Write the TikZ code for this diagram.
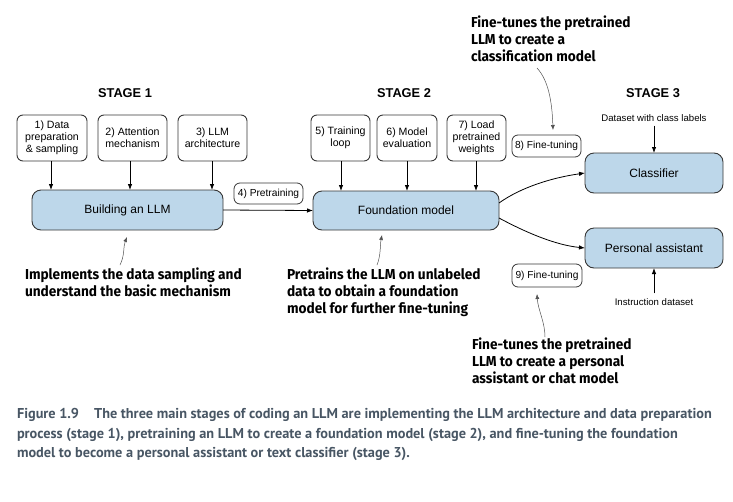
\documentclass[tikz,border=0pt]{standalone}
\usepackage{fontspec}
\setmainfont{Liberation Sans}
\newfontfamily\annfont{Fira Sans Bold}[FakeStretch=0.95]
\newfontfamily\capfont{PT Sans Bold}
\usetikzlibrary{arrows.meta}
\definecolor{boxblue}{RGB}{189,215,234}
\definecolor{boxline}{RGB}{55,55,55}
\definecolor{capcol}{RGB}{72,86,100}
\definecolor{anncol}{RGB}{80,80,80}
\tikzset{
  every node/.style={inner sep=0pt, outer sep=0pt},
  stepbox/.style={draw=boxline, line width=0.9pt, rounded corners=6pt, align=center,
    font=\fontsize{10.6}{12}\selectfont},
  mainbox/.style={draw=boxline, line width=0.9pt, fill=boxblue, rounded corners=9pt,
    font=\fontsize{12}{14}\selectfont},
  tagbox/.style={draw=boxline, line width=0.8pt, rounded corners=6pt,
    font=\fontsize{10.2}{12}\selectfont},
  stagetitle/.style={font=\fontsize{12.8}{14}\selectfont\bfseries},
  ann/.style={font=\annfont\fontsize{14.4}{17}\selectfont, align=left, anchor=north west},
  small/.style={font=\fontsize{9.6}{11}\selectfont},
  arr/.style={-{Latex[length=6pt,width=4.5pt]}, line width=0.8pt, black},
  annarr/.style={-{Latex[length=5pt,width=4pt]}, line width=0.5pt, anncol},
  captext/.style={font=\capfont\fontsize{14.3}{16}\selectfont, text=capcol, anchor=west}
}
\begin{document}
\begin{tikzpicture}[x=1pt,y=-1pt]
\useasboundingbox (0,0) rectangle (733,501);

% stage titles
\node[stagetitle] (s1) at (125,93) {STAGE 1};
\node[stagetitle] (s2) at (404,93) {STAGE 2};
\node[stagetitle] (s3) at (653,93) {STAGE 3};

% stage 1 boxes
\node[stepbox, minimum width=70pt, minimum height=46pt] (b1) at (52,138) {1) Data\\preparation\\\& sampling};
\node[stepbox, minimum width=69pt, minimum height=46pt] (b2) at (132.5,138) {2) Attention\\mechanism};
\node[stepbox, minimum width=69pt, minimum height=46pt] (b3) at (212.5,138) {3) LLM\\architecture};
\node[mainbox, minimum width=191pt, minimum height=40pt] (build) at (127.5,210) {Building an LLM};

\draw[arr] (b1.south -| 51,0) -- (build.north -| 51,0);
\draw[arr] (b2.south -| 130,0) -- (build.north -| 130,0);
\draw[arr] (b3.south -| 212,0) -- (build.north -| 212,0);

% stage 2 boxes
\node[stepbox, minimum width=59pt, minimum height=46pt] (b5) at (340.5,138) {5) Training\\loop};
\node[stepbox, minimum width=60pt, minimum height=46pt] (b6) at (407,138) {6) Model\\evaluation};
\node[stepbox, minimum width=59pt, minimum height=46pt] (b7) at (476.5,138) {7) Load\\pretrained\\weights};
\node[mainbox, minimum width=186pt, minimum height=39pt] (found) at (406,210.5) {Foundation model};

\draw[arr] (b5.south -| 341,0) -- (found.north -| 341,0);
\draw[arr] (b6.south -| 407,0) -- (found.north -| 407,0);
\draw[arr] (b7.south -| 476,0) -- (found.north -| 476,0);

% pretraining
\node[tagbox, minimum width=69pt, minimum height=21pt] (pre) at (268.5,193.5) {4) Pretraining};
\draw[arr] (build.east) -- (found.west);

% stage 3
\node[mainbox, minimum width=138pt, minimum height=40pt] (cls) at (654,173) {Classifier};
\node[mainbox, minimum width=138pt, minimum height=40pt] (pa) at (654,248) {Personal assistant};
\node[small] (dscl) at (654,118) {Dataset with class labels};
\node[small] (inst) at (654,302) {Instruction dataset};
\draw[arr] (dscl.south) ++(0,4) coordinate (dtop) (dtop) -- (cls.north);
\draw[arr] (inst.north) ++(0,-5) coordinate (ibot) (ibot) -- (pa.south);

\node[tagbox, minimum width=69pt, minimum height=22pt] (ft8) at (546.5,146) {8) Fine-tuning};
\node[tagbox, minimum width=70pt, minimum height=23pt] (ft9) at (547,275.5) {9) Fine-tuning};

\coordinate (fo1) at (499,203);
\coordinate (fo2) at (499,218);
\draw[arr] (fo1) .. controls (520,188) and (550,178) .. (cls.west);
\draw[arr] (fo2) .. controls (525,232) and (555,245) .. (pa.west);

% annotations
\node[ann] (a1) at (25,268) {Implements the data sampling and\\understand the basic mechanism};
\node[ann] (a2) at (287,268) {Pretrains the LLM on unlabeled\\data to obtain a foundation\\model for further fine-tuning};
\node[ann] (a3) at (471,16) {Fine-tunes the pretrained\\LLM to create a\\classification model};
\node[ann] (a4) at (472,338) {Fine-tunes the pretrained\\LLM to create a personal\\assistant or chat model};

\coordinate (a1s) at (120,265);
\coordinate (a1e) at (127,237);
\draw[annarr] (a1s) .. controls (125,255) and (123,247) .. (a1e);
\coordinate (a2s) at (377,265);
\coordinate (a2e) at (382,235);
\draw[annarr] (a2s) .. controls (381,255) and (380,245) .. (a2e);
\coordinate (a3s) at (537,68);
\coordinate (a3e) at (553,130);
\draw[annarr] (a3s) .. controls (548,80) and (552,100) .. (a3e);
\coordinate (a4s) at (545,337);
\coordinate (a4e) at (537,294);
\draw[annarr] (a4s) .. controls (545,322) and (538,310) .. (a4e);

% caption
\node[captext] (c1) at (17,415) {Figure 1.9\hspace{0.8em} The three main stages of coding an LLM are implementing the LLM architecture and data preparation};
\node[captext] (c2) at (17,435) {process (stage 1), pretraining an LLM to create a foundation model (stage 2), and fine-tuning the foundation};
\node[captext] (c3) at (17,454) {model to become a personal assistant or text classifier (stage 3).};
\end{tikzpicture}
\end{document}
